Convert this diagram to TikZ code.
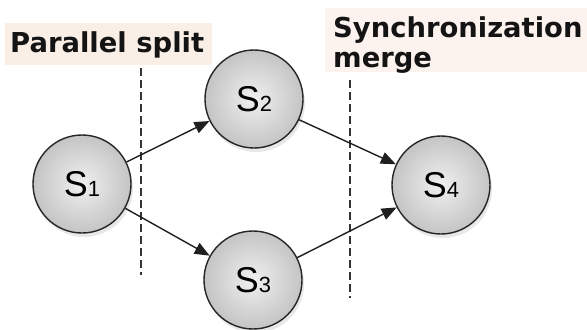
\documentclass[tikz,border=0pt]{standalone}
\usepackage{fontspec}
\setmainfont{Liberation Sans}
\newfontfamily\labelfont{DejaVu Sans}
\usetikzlibrary{arrows.meta,shadows}
\definecolor{labelbg}{HTML}{FAEFE6}
\definecolor{labelbgb}{HTML}{FDF3EE}
\tikzset{
  state/.style={circle, minimum size=98bp, inner sep=0pt, draw=black!85, line width=1.4bp,
    inner color=white!94!black, outer color=black!23,
    drop shadow={opacity=0.18, shadow xshift=2bp, shadow yshift=-4bp},
    text=black, font=\fontsize{36}{36}\selectfont},
  flow/.style={-{Triangle[length=15bp,width=12bp]}, line width=1.4bp, black!88},
  sep/.style={dash pattern=on 8bp off 4bp, line width=1.2bp, black!80},
  caption/.style={font=\labelfont\bfseries\fontsize{27.5}{30}\selectfont, text=black!92, inner sep=0pt, anchor=base west, align=left},
}
\newcommand{\st}[1]{S{\fontsize{22}{22}\selectfont #1}}
\begin{document}
\begin{tikzpicture}[x=1bp,y=-1bp]
\useasboundingbox (0,0) rectangle (587,329);
\fill[white] (0,0) rectangle (587,329);
% label backgrounds
\fill[labelbg] (5,23) rectangle (212,65);
\fill[labelbgb] (325,8) rectangle (587,72);
\node[caption] (ps) at (10,52) {Parallel split};
\node[caption] (sm) at (333,67) {Synchronization\\merge};
% dashed separators
\coordinate (d1a) at (141,68);
\coordinate (d1b) at (141,275);
\coordinate (d2a) at (350,80);
\coordinate (d2b) at (350,298);
\draw[sep] (d1a) -- (d1b);
\draw[sep] (d2a) -- (d2b);
% states
\node[state] (s1) at (82,184) {\st{1}};
\node[state] (s2) at (254,99) {\st{2}};
\node[state] (s3) at (253,280) {\st{3}};
\node[state] (s4) at (441,185) {\st{4}};
% flows
\draw[flow] (s1) -- (s2);
\draw[flow] (s1) -- (s3);
\draw[flow] (s2) -- (s4);
\draw[flow] (s3) -- (s4);
\end{tikzpicture}
\end{document}
